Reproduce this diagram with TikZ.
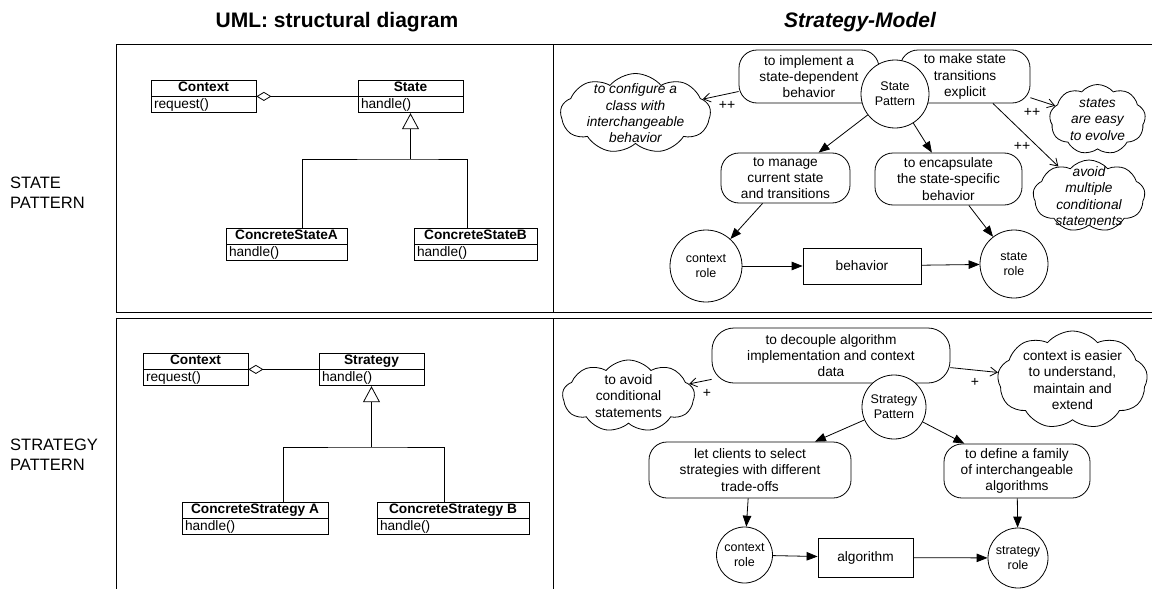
\documentclass[tikz,border=0pt]{standalone}
\usepackage{fontspec}
\setmainfont{Liberation Sans}
\usetikzlibrary{arrows.meta,shapes.symbols}
\begin{document}
\begin{tikzpicture}[x=1pt,y=-1pt,
  every node/.style={font=\fontsize{13.7}{16.3}\selectfont},
  frame/.style={line width=1pt},
  hd/.style={draw, line width=0.8pt, inner sep=0pt, minimum height=16pt, text height=10pt, text depth=3pt, font=\bfseries\fontsize{13.7}{16}\selectfont},
  bd/.style={draw, line width=0.8pt, inner xsep=3pt, inner ysep=0pt, minimum height=16pt, text height=10pt, text depth=3pt, align=left},
  ln/.style={line width=0.8pt},
  agg/.style={line width=0.8pt, {Diamond[open,length=15pt,width=9pt]}-},
  gen/.style={line width=0.8pt, -{Triangle[open,length=16pt,width=17pt]}},
  rbox/.style={draw, line width=0.8pt, rounded corners=18pt, align=center, inner sep=0pt, fill=white},
  circ/.style={draw, circle, line width=0.8pt, align=center, inner sep=0pt, fill=white, font=\fontsize{12.5}{15}\selectfont},
  sq/.style={draw, rectangle, line width=0.8pt, inner sep=0pt},
  cl/.style={draw, cloud, cloud puffs=9, cloud puff arc=100, cloud ignores aspect, line width=0.8pt, inner sep=0pt},
  itx/.style={font=\itshape\fontsize{13.7}{16.3}\selectfont, align=center},
  utx/.style={font=\fontsize{13.7}{16.3}\selectfont, align=center},
  oarr/.style={line width=0.8pt, -{Straight Barb[length=7pt,width=9pt]}},
  farr/.style={line width=0.8pt, -{Triangle[length=11pt,width=8.5pt]}},
  lbl/.style={font=\fontsize{14}{16}\selectfont, inner sep=0pt},
  ttl/.style={font=\bfseries\fontsize{21}{24}\selectfont},
  side/.style={anchor=west, align=left, inner sep=0pt, font=\fontsize{16.5}{20}\selectfont}
]
\useasboundingbox (0,0) rectangle (1152,589);

% frames
\draw[frame] (116,44) rectangle (1153,312);
\draw[frame] (553,44) -- (553,312);
\draw[frame] (116,318) rectangle (1153,595);
\draw[frame] (553,318) -- (553,595);

% titles and side labels
\node[ttl] (t1) at (337,22) {UML: structural diagram};
\node[ttl, font=\bfseries\itshape\fontsize{21}{24}\selectfont] (t2) at (860,22) {Strategy-Model};
\node[side] (l1) at (10,193) {STATE\\PATTERN};
\node[side] (l2) at (10,455) {STRATEGY\\PATTERN};

% ---------- UML state ----------
\node[hd, minimum width=105pt] (ctxH1) at (203.5,88) {Context};
\node[bd, text width=99pt, anchor=north] (ctxB1) at (ctxH1.south) {request()};
\node[hd, minimum width=105pt] (stH1) at (410.5,88) {State};
\node[bd, text width=99pt, anchor=north] (stB1) at (stH1.south) {handle()};
\node[hd, minimum width=121pt] (caH1) at (286.5,236) {ConcreteStateA};
\node[bd, text width=115pt, anchor=north] (caB1) at (caH1.south) {handle()};
\node[hd, minimum width=123pt] (cbH1) at (475.5,236) {ConcreteStateB};
\node[bd, text width=117pt, anchor=north] (cbB1) at (cbH1.south) {handle()};
\draw[agg] (ctxH1.south east) -- (stH1.south west);
\coordinate (j1) at (410.5,159);
\draw[ln] ([xshift=16pt]caH1.north) |- (j1) -| ([xshift=-8.5pt]cbH1.north);
\draw[gen] (j1) -- (stB1.south);

% ---------- UML strategy ----------
\node[hd, minimum width=105pt] (ctxH2) at (195.5,361) {Context};
\node[bd, text width=99pt, anchor=north] (ctxB2) at (ctxH2.south) {request()};
\node[hd, minimum width=105pt] (stH2) at (371.5,361) {Strategy};
\node[bd, text width=99pt, anchor=north] (stB2) at (stH2.south) {handle()};
\node[hd, minimum width=146pt] (caH2) at (255,510) {ConcreteStrategy A};
\node[bd, text width=140pt, anchor=north] (caB2) at (caH2.south) {handle()};
\node[hd, minimum width=152pt] (cbH2) at (453,510) {ConcreteStrategy B};
\node[bd, text width=146pt, anchor=north] (cbB2) at (cbH2.south) {handle()};
\draw[agg] (ctxH2.south east) -- (stH2.south west);
\coordinate (j2) at (371.5,447);
\draw[ln] ([xshift=28pt]caH2.north) |- (j2) -| ([xshift=-9pt]cbH2.north);
\draw[gen] (j2) -- (stB2.south);

% ---------- Strategy-Model: state ----------
\node[rbox, minimum width=140pt, minimum height=53pt] (impl) at (809,76.5) {to implement a\\state-dependent\\behavior};
\node[rbox, minimum width=130pt, minimum height=53pt] (expl) at (965,76.5) {to make state\\transitions\\explicit};
\node[circ, minimum size=68pt] (sp) at (895,94) {State\\Pattern};
\node[rbox, minimum width=129pt, minimum height=50pt] (mng) at (785.5,178) {to manage\\current state\\and transitions};
\node[rbox, minimum width=147pt, minimum height=52pt] (enc) at (948.5,179) {to encapsulate\\the state-specific\\behavior};
\node[circ, minimum size=72pt] (cr1) at (706,266) {context\\role};
\node[sq, minimum width=118pt, minimum height=36pt] (beh) at (862,266) {behavior};
\node[circ, minimum size=68pt] (sr1) at (1014,264) {state\\role};
\node[cl, minimum width=150pt, minimum height=80pt, label={[itx]center:{to configure a\\class with\\interchangeable\\behavior}}] (cfg) at (635.5,113.5) {};
\node[cl, minimum width=96pt, minimum height=70pt, label={[itx]center:{states\\are easy\\to evolve}}] (easy) at (1097.5,119.5) {};
\node[cl, minimum width=112pt, minimum height=72pt, label={[itx]center:{avoid\\multiple\\conditional\\statements}}] (avm) at (1089,196) {};

\draw[oarr] (impl) -- (cfg);
\draw[oarr] (expl) -- (easy);
\draw[oarr] (expl) -- (avm);
\draw[farr] (sp) -- (mng);
\draw[farr] (sp) -- (enc);
\draw[farr] (mng) -- (cr1);
\draw[farr] (enc) -- (sr1);
\draw[farr] (cr1) -- (beh);
\draw[farr] (beh) -- (sr1);
\node[lbl] (p1) at (727,105) {++};
\node[lbl] (p2) at (1032,112) {++};
\node[lbl] (p3) at (1022,146) {++};

% ---------- Strategy-Model: strategy ----------
\node[rbox, rounded corners=22pt, minimum width=238pt, minimum height=55pt] (dec) at (831,355.5) {to decouple algorithm\\implementation and context\\data};
\node[circ, minimum size=64pt] (stp) at (894,407) {Strategy\\Pattern};
\node[rbox, minimum width=202pt, minimum height=56pt] (sel) at (750,470) {let clients to select\\strategies with different\\trade-offs};
\node[rbox, minimum width=146pt, minimum height=54pt] (fam) at (1017,471) {to define a family\\of interchangeable\\algorithms};
\node[circ, minimum size=56pt] (cr2) at (744.5,555) {context\\role};
\node[sq, minimum width=95pt, minimum height=39pt] (alg) at (865.5,557.5) {algorithm};
\node[circ, minimum size=60pt] (sr2) at (1018,558) {strategy\\role};
\node[cl, minimum width=132pt, minimum height=72pt, label={[utx]center:{to avoid\\conditional\\statements}}] (avc) at (628.5,396) {};
\node[cl, minimum width=150pt, minimum height=98pt, label={[utx]center:{context is easier\\to understand,\\maintain and\\extend}}] (eas) at (1072.5,380) {};

\draw[oarr] (dec) -- (avc);
\draw[oarr] (dec) -- (eas);
\draw[farr] (stp) -- (sel);
\draw[farr] (stp) -- (fam);
\draw[farr] (sel) -- (cr2);
\draw[farr] (fam) -- (sr2);
\draw[farr] (cr2) -- (alg);
\draw[farr] (alg) -- (sr2);
\node[lbl] (q1) at (707,393) {+};
\node[lbl] (q2) at (975,382) {+};
\end{tikzpicture}
\end{document}
